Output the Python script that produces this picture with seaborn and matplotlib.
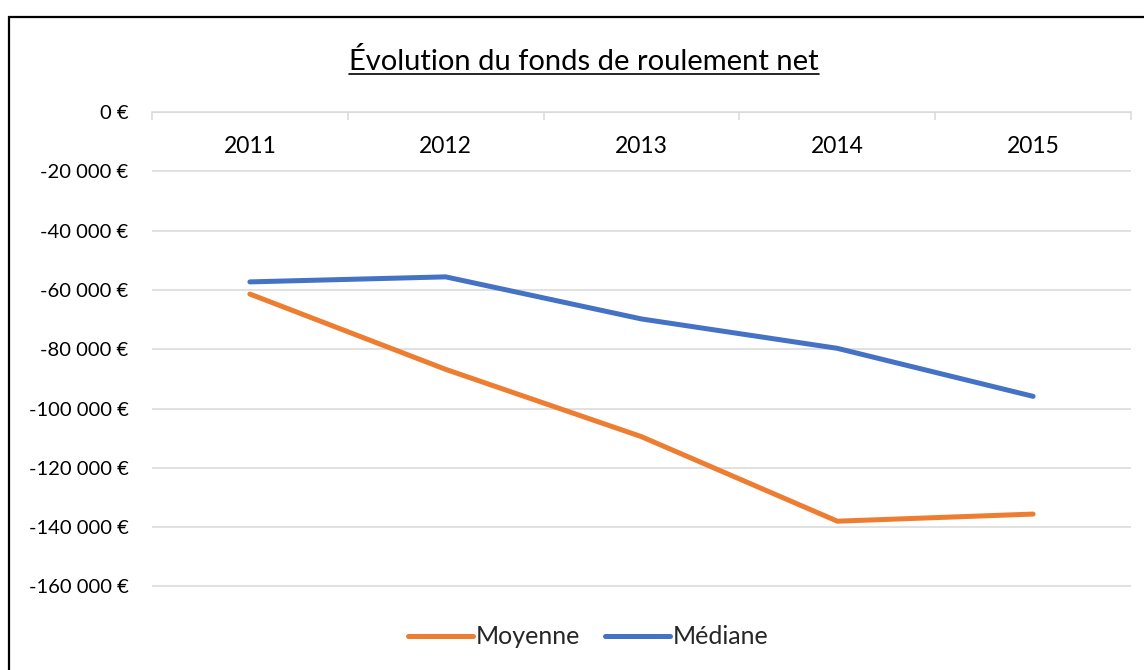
import matplotlib
matplotlib.use("Agg")
import matplotlib.pyplot as plt
from matplotlib.lines import Line2D
from matplotlib.patches import Rectangle
from matplotlib.ticker import FuncFormatter
import pandas as pd
import seaborn as sns

# Data
years = ["2011", "2012", "2013", "2014", "2015"]
moyenne = [-61400, -86800, -109500, -138000, -135600]
mediane = [-57300, -55600, -69800, -79700, -95900]
series_names = ["Moyenne", "Médiane"]
y_ticks = [0, -20000, -40000, -60000, -80000, -100000, -120000, -140000, -160000]

df = pd.DataFrame({
    "annee": years * 2,
    "valeur": moyenne + mediane,
    "serie": [series_names[0]] * len(years) + [series_names[1]] * len(years),
})

sns.set_theme(style="white")
plt.rcParams["font.family"] = ["Lato", "DejaVu Sans"]

fig = plt.figure(figsize=(11.44, 6.70), dpi=100)
ax = fig.add_axes([152 / 1144, 1 - 622 / 670, (1131 - 152) / 1144, (622 - 112) / 670])

palette = {"Moyenne": "#ED7D31", "Médiane": "#4472C4"}
sns.lineplot(data=df, x="annee", y="valeur", hue="serie", palette=palette,
             linewidth=3.6, ax=ax, legend=False, solid_capstyle="round")

ax.set_xlim(-0.5, len(years) - 0.5)
ax.set_ylim(-172000, 0)
ax.set_yticks(y_ticks)
ax.yaxis.set_major_formatter(FuncFormatter(
    lambda v, p: f"{int(v):,} €".replace(",", " ")))
ax.grid(axis="y", color="#d9d9d9", linewidth=1.1)
ax.grid(axis="x", visible=False)
ax.set_axisbelow(True)

for s in ["top", "left", "right"]:
    ax.spines[s].set_visible(False)
ax.spines["bottom"].set_position(("data", 0))
ax.spines["bottom"].set_color("#d9d9d9")
ax.spines["bottom"].set_linewidth(1.1)

ax.set_xticks(range(len(years)))
ax.set_xticks([i - 0.5 for i in range(len(years) + 1)], minor=True)
ax.tick_params(axis="x", which="both", bottom=True)
ax.tick_params(axis="x", which="major", length=0, pad=17, labelsize=16.5, colors="#000000")
ax.tick_params(axis="x", which="minor", length=6, width=1.1, color="#d9d9d9", direction="out")
ax.tick_params(axis="y", length=0, pad=17, labelsize=14.5, colors="#000000")
ax.set_xlabel("")
ax.set_ylabel("")

title = fig.text(584 / 1144, 1 - 61 / 670, "Évolution du fonds de roulement net",
                 ha="center", va="center", fontsize=21, color="#000000")
fig.canvas.draw()
bb = title.get_window_extent(fig.canvas.get_renderer()).transformed(fig.transFigure.inverted())
fig.add_artist(Line2D([bb.x0, bb.x1], [1 - 74 / 670] * 2, color="#000000",
                      linewidth=1.2, transform=fig.transFigure))

handles = [Line2D([], [], color=palette[n], linewidth=3.6, solid_capstyle="round")
           for n in series_names]
fig.legend(handles, series_names, loc="center", bbox_to_anchor=(588 / 1144, 1 - 637 / 670),
           ncol=2, frameon=False, fontsize=18, handlelength=2.6, handletextpad=0.1,
           columnspacing=1.0)

fig.add_artist(Rectangle((9 / 1144, -0.2), 1.2, 1.2 - 17 / 670, transform=fig.transFigure,
                         fill=False, edgecolor="#000000", linewidth=1.6))

fig.savefig("out.png", dpi=100)
plt.close(fig)
